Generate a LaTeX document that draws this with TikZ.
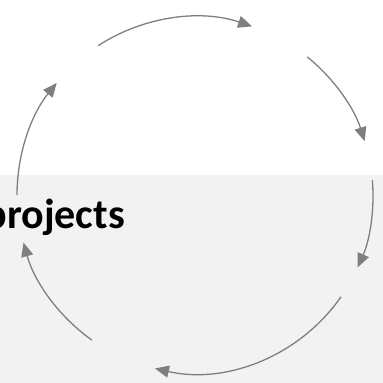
\documentclass[tikz,border=0pt]{standalone}
\usepackage{fontspec}
\setmainfont{Carlito}
\usepackage{xcolor}
\usetikzlibrary{arrows.meta}

\definecolor{bandgray}{HTML}{F2F2F2}
\definecolor{arcgray}{HTML}{7F7F7F}

\tikzset{
  cyc/.style={draw=arcgray, line width=1.3pt, -{Triangle[length=14pt,width=12pt]}},
  label/.style={font=\bfseries\fontsize{42}{50}\selectfont, inner sep=0pt, anchor=base east}
}

\begin{document}
\begin{tikzpicture}[x=1pt,y=1pt]
\useasboundingbox (0,0) rectangle (383,383);
\clip (0,0) rectangle (383,383);

% Lower band
\fill[bandgray] (0,0) rectangle (383,208);

% Cycle centre
\coordinate (c) at (195,188);

% Six arcs, clockwise
\foreach \from/\to in {122.9/71.3, 50.9/17.6, 4.8/-24, -34.9/-103, -125.4/-164.5, 180/141} {
    \draw[cyc] ([shift={(c)}]\from:178) arc[start angle=\from, end angle=\to, radius=178];
}

% Cut-off label
\node[label] (proj) at (125,154) {projects};
\end{tikzpicture}
\end{document}
